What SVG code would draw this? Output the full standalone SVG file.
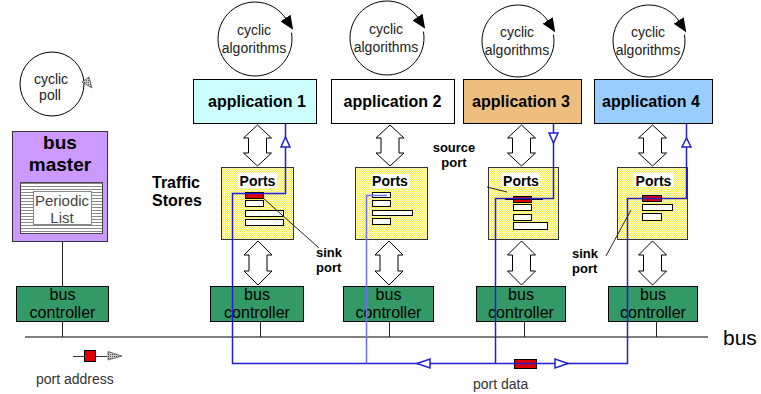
<svg xmlns="http://www.w3.org/2000/svg" width="761" height="394" viewBox="0 0 761 394">
<style>
text{font-family:"Liberation Sans",Arial,sans-serif;}
.app{stroke:#000;stroke-width:1;}
.appt{font-size:16px;font-weight:bold;text-anchor:middle;fill:#000;}
.cyc{fill:none;stroke:#000;stroke-width:1;}
.cyct{font-size:14px;text-anchor:middle;fill:#222;}
.bc{fill:#339966;stroke:#000;stroke-width:1;}
.bct{font-size:16px;text-anchor:middle;fill:#000;}
.pbox{fill:url(#dots);stroke:#333;stroke-width:1;}
.plab{fill:#fff;}
.pt{font-size:14px;font-weight:bold;text-anchor:middle;}
.slot{fill:#fff;stroke:#000;stroke-width:1;}
.red{fill:#dd0000;stroke:#000;stroke-width:1;}
.dbl{fill:#fff;stroke:#000;stroke-width:1;}
.blue{fill:none;stroke:#2020d0;stroke-width:1.5;}
.lblue{fill:none;stroke:#7070ff;stroke-width:1.5;}
.oarr{fill:#fff;stroke:#2020d0;stroke-width:1.5;}
.tick{fill:none;stroke:#222;stroke-width:1;}
.lbl{font-size:13px;font-weight:bold;fill:#000;}
.leg{font-size:14px;fill:#333;}
</style>
<defs>
<pattern id="dots" width="2" height="2" patternUnits="userSpaceOnUse">
<rect width="2" height="2" fill="#ffee55"/>
<rect width="1" height="1" fill="#ffffcc"/>
<rect x="1" y="1" width="1" height="1" fill="#ffffcc"/>
</pattern>
<pattern id="stripes" width="4" height="3" patternUnits="userSpaceOnUse">
<rect width="4" height="3" fill="#fff"/>
<rect width="4" height="1" fill="#888"/>
</pattern>
<pattern id="hatch" width="2" height="2" patternUnits="userSpaceOnUse">
<rect width="2" height="2" fill="#ccc"/>
<rect width="1" height="1" fill="#555"/>
</pattern>
<marker id="ah" markerWidth="14" markerHeight="12" refX="1" refY="6" orient="auto" markerUnits="userSpaceOnUse">
<path d="M0,0 L14,6 L0,12 Z" fill="#000"/>
</marker>
<path id="da1" d="M0,0 L14,13 L9,13 L9,28 L14,28 L0,41 L-14,28 L-9,28 L-9,13 L-14,13 Z"/>
<path id="da2" d="M0,0 L14,14 L9,14 L9,30 L14,30 L0,44 L-14,30 L-9,30 L-9,14 L-14,14 Z"/>
</defs>
<rect width="761" height="394" fill="#fff"/>

<g id="cyclic-poll">
<circle class="cyc" cx="52" cy="84" r="32"/>
<polygon points="82,82 89,77 92,88" fill="url(#hatch)" stroke="#555" stroke-width="0.8"/>
<text class="cyct" x="51" y="84">cyclic</text>
<text class="cyct" x="50" y="100">poll</text>
</g>

<g id="bus-master">
<rect x="12.5" y="131.5" width="95" height="110" fill="#cc99ff" stroke="#333"/>
<text x="60" y="149" style="font-size:19px;font-weight:bold;text-anchor:middle">bus</text>
<text x="60" y="171" style="font-size:19px;font-weight:bold;text-anchor:middle">master</text>
<rect x="20.5" y="182.5" width="82" height="51" fill="url(#stripes)" stroke="#444"/>
<rect x="33.5" y="191.5" width="58" height="33" fill="#fff" stroke="#888"/>
<text x="62" y="206" style="font-size:15px;text-anchor:middle;fill:#444">Periodic</text>
<text x="62" y="223" style="font-size:15px;text-anchor:middle;fill:#444">List</text>
</g>

<g id="cyclic-1">
<path class="cyc" d="M291.44,32.58 A37,37 0 1 1 286.03,18.85" marker-end="url(#ah)"/>
<text class="cyct" x="254" y="35">cyclic</text>
<text class="cyct" x="254" y="53">algorithms</text>
</g>
<g id="cyclic-2">
<path class="cyc" d="M423.44,31.58 A37,37 0 1 1 418.03,17.85" marker-end="url(#ah)"/>
<text class="cyct" x="386" y="34">cyclic</text>
<text class="cyct" x="386" y="52">algorithms</text>
</g>
<g id="cyclic-3">
<path class="cyc" d="M553.45,34.75 A36,36 0 1 1 548.19,21.39" marker-end="url(#ah)"/>
<text class="cyct" x="517" y="37">cyclic</text>
<text class="cyct" x="517" y="55">algorithms</text>
</g>
<g id="cyclic-4">
<path class="cyc" d="M684.45,34.75 A36,36 0 1 1 679.19,21.39" marker-end="url(#ah)"/>
<text class="cyct" x="648" y="37">cyclic</text>
<text class="cyct" x="648" y="55">algorithms</text>
</g>

<g id="application-1">
<rect class="app" x="193.5" y="79.5" width="123" height="44" fill="#ccffff"/>
<text class="appt" x="257" y="107">application 1</text>
</g>
<g id="application-2">
<rect class="app" x="331.5" y="79.5" width="123" height="44" fill="#fff"/>
<text class="appt" x="392.5" y="107">application 2</text>
</g>
<g id="application-3">
<rect class="app" x="463.5" y="79.5" width="118" height="44" fill="#edbe7e"/>
<text class="appt" x="521" y="107">application 3</text>
</g>
<g id="application-4">
<rect class="app" x="594.5" y="79.5" width="118" height="44" fill="#99ccff"/>
<text class="appt" x="651" y="107">application 4</text>
</g>

<g id="traffic-stores-label">
<text x="152" y="188" style="font-size:16px;font-weight:bold">Traffic</text>
<text x="152" y="206" style="font-size:16px;font-weight:bold">Stores</text>
</g>

<g id="ports-1">
<rect class="pbox" x="221.5" y="167.5" width="72" height="72"/>
<rect class="plab" x="238" y="173" width="39" height="15"/>
<text class="pt" x="257.5" y="186">Ports</text>
<rect class="red" x="245.5" y="192.5" width="18" height="6"/>
<rect class="slot" x="245.5" y="200.5" width="18" height="6"/>
<rect class="slot" x="245.5" y="210.5" width="38" height="6"/>
<rect class="slot" x="245.5" y="219.5" width="38" height="6"/>
</g>
<g id="ports-2">
<rect class="pbox" x="355.5" y="167.5" width="72" height="72"/>
<rect class="plab" x="371" y="174" width="38" height="14"/>
<text class="pt" x="390" y="186">Ports</text>
<rect class="slot" x="372.5" y="192.5" width="18" height="5"/>
<rect class="slot" x="372.5" y="200.5" width="18" height="6"/>
<rect class="slot" x="372.5" y="210.5" width="40" height="5"/>
<rect class="slot" x="372.5" y="218.5" width="18" height="6"/>
</g>
<g id="ports-3">
<rect class="pbox" x="488.5" y="167.5" width="70" height="72"/>
<rect class="plab" x="502" y="173" width="38" height="14"/>
<text class="pt" x="521" y="186">Ports</text>
<rect class="red" x="513.5" y="196.5" width="18" height="6"/>
<line x1="505" y1="199.5" x2="543" y2="199.5" stroke="#000" stroke-width="1"/>
<rect class="slot" x="513.5" y="204.5" width="18" height="6"/>
<rect class="slot" x="513.5" y="214.5" width="18" height="6"/>
<rect class="slot" x="513.5" y="222.5" width="34" height="7"/>
</g>
<g id="ports-4">
<rect class="pbox" x="617.5" y="167.5" width="70" height="72"/>
<rect class="plab" x="634" y="173" width="39" height="14"/>
<text class="pt" x="653.5" y="186">Ports</text>
<rect class="red" x="642.5" y="195.5" width="19" height="6"/>
<rect class="slot" x="642.5" y="204.5" width="30" height="6"/>
<rect class="slot" x="642.5" y="213.5" width="19" height="7"/>
</g>

<g id="bus-controller-1">
<rect class="bc" x="16.5" y="286.5" width="92" height="35"/>
<text class="bct" x="62.5" y="300">bus</text>
<text class="bct" x="62.5" y="318">controller</text>
</g>
<g id="bus-controller-2">
<rect class="bc" x="210.5" y="286.5" width="93" height="35"/>
<text class="bct" x="257" y="300">bus</text>
<text class="bct" x="257" y="318">controller</text>
</g>
<g id="bus-controller-3">
<rect class="bc" x="343.5" y="286.5" width="90" height="35"/>
<text class="bct" x="388.5" y="300">bus</text>
<text class="bct" x="388.5" y="318">controller</text>
</g>
<g id="bus-controller-4">
<rect class="bc" x="476.5" y="286.5" width="89" height="35"/>
<text class="bct" x="521" y="300">bus</text>
<text class="bct" x="521" y="318">controller</text>
</g>
<g id="bus-controller-5">
<rect class="bc" x="608.5" y="286.5" width="89" height="35"/>
<text class="bct" x="653" y="300">bus</text>
<text class="bct" x="653" y="318">controller</text>
</g>

<g id="bus">
<line x1="25" y1="337" x2="708" y2="337" stroke="#808080" stroke-width="2"/>
<text x="723" y="345" style="font-size:21px;fill:#000">bus</text>
</g>

<g id="connectors">
<use href="#da1" class="dbl" x="257.5" y="125"/>
<use href="#da1" class="dbl" x="390" y="125"/>
<use href="#da1" class="dbl" x="521.5" y="125"/>
<use href="#da1" class="dbl" x="652.5" y="125"/>
<use href="#da2" class="dbl" x="258" y="241"/>
<use href="#da2" class="dbl" x="389" y="241"/>
<use href="#da2" class="dbl" x="521.5" y="241"/>
<use href="#da2" class="dbl" x="652.5" y="241"/>
<path class="tick" d="M62.5,242 V286"/>
<path class="tick" d="M62.5,322 V337 M260.5,322 V337 M389.5,322 V337 M524.5,322 V337 M656.5,322 V337"/>
<path class="tick" d="M263,198 L319,248 M631,210 L606,256 M487,187 L507,192"/>
<rect x="514.5" y="359.5" width="22" height="9" fill="#dd0000" stroke="#000"/>
<path class="blue" d="M285.5,124 V193.5 H232.5 V363.5 H627.5 V198.5 H686.5 V124"/>
<path class="blue" d="M553.5,124 V198.5 H495.5 V363.5"/>
<path class="lblue" d="M387,195.5 H366.5 V363.5"/>
<polygon class="oarr" points="285.5,137 281,147 290,147"/>
<polygon class="oarr" points="553.5,143 549,133 558,133"/>
<polygon class="oarr" points="686.5,138 682,147 691,147"/>
<polygon class="oarr" points="417,363.5 430,359 430,368"/>
<polygon class="oarr" points="568,363.5 555,359 555,368"/>
</g>

<g id="labels">
<text class="lbl" x="454" y="152" text-anchor="middle">source</text>
<text class="lbl" x="454" y="167" text-anchor="middle">port</text>
<text class="lbl" x="316" y="257">sink</text>
<text class="lbl" x="316" y="272">port</text>
<text class="lbl" x="572" y="258">sink</text>
<text class="lbl" x="572" y="273">port</text>
</g>

<g id="legend">
<line x1="73" y1="356.5" x2="107" y2="356.5" stroke="#333" stroke-width="1"/>
<rect x="84.5" y="350.5" width="11" height="11" fill="#dd0000" stroke="#000"/>
<polygon points="108,351.5 122,356 108,360" fill="url(#hatch)" stroke="#555" stroke-width="0.8"/>
<text class="leg" x="36" y="384">port address</text>
<text class="leg" x="473" y="389">port data</text>
</g>
</svg>
